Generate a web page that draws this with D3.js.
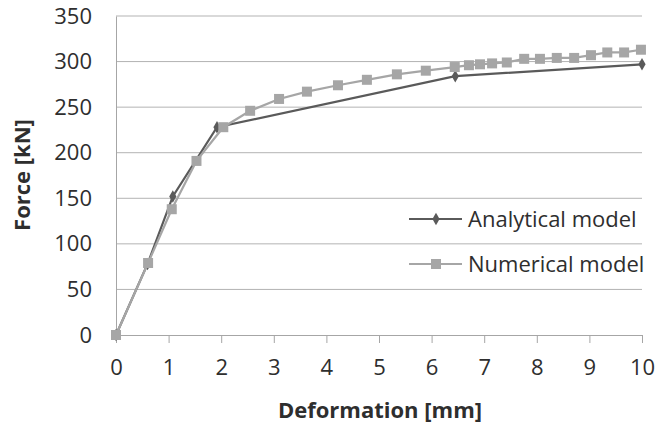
<!DOCTYPE html>
<html>
<head>
<meta charset="utf-8">
<script src="https://cdn.jsdelivr.net/npm/d3@7"></script>
<style>
  body { margin: 0; background: #fff; }
  svg { display: block; font-family: "Open Sans", sans-serif; }
</style>
</head>
<body>
<svg id="svg1" width="660" height="434"></svg>
<script>
// data
var analyticalX = [0, 0.6, 1.08, 1.92, 6.45, 10];
var analyticalY = [0, 78, 152, 228, 284, 297];

var numericalX = [0, 0.61, 1.06, 1.53, 2.04, 2.55, 3.1, 3.63, 4.22, 4.77, 5.34, 5.89,
                  6.44, 6.71, 6.92, 7.15, 7.43, 7.76, 8.06, 8.38, 8.71, 9.03, 9.34, 9.66, 9.98];
var numericalY = [0, 79, 138, 191, 228, 246, 259, 267, 274, 280, 286, 290,
                  294, 296, 297, 298, 299, 303, 303, 304, 304, 307, 310, 310, 313];

var xTicks = [0, 1, 2, 3, 4, 5, 6, 7, 8, 9, 10];
var yTicks = [0, 50, 100, 150, 200, 250, 300, 350];

var seriesNames = ["Analytical model", "Numerical model"];

var svg = d3.select('svg');

var plotLeft = 116, plotRight = 642, plotTop = 16, plotBottom = 335;

var x = d3.scaleLinear().domain([0, 10]).range([plotLeft, plotRight]);
var y = d3.scaleLinear().domain([0, 350]).range([plotBottom, plotTop]);

// horizontal gridlines
svg.append('g')
   .selectAll('line')
   .data(yTicks.filter(function(d) { return d > 0; }))
   .enter()
   .append('line')
   .attr('x1', plotLeft).attr('x2', plotRight)
   .attr('y1', function(d) { return y(d); })
   .attr('y2', function(d) { return y(d); })
   .attr('stroke', '#b3b3b3')
   .attr('stroke-width', 1);

// x axis
var xAxis = svg.append('g')
   .attr('transform', 'translate(0,' + plotBottom + ')')
   .call(d3.axisBottom(x).tickValues(xTicks).tickSize(8).tickPadding(16));
xAxis.attr('font-family', null).attr('font-size', null);
xAxis.select('.domain').attr('stroke', '#a6a6a6');
xAxis.selectAll('.tick line').attr('stroke', '#a6a6a6');
xAxis.selectAll('text').attr('font-size', 22).attr('fill', '#2e2e2e');

// y axis
var yAxis = svg.append('g')
   .attr('transform', 'translate(' + plotLeft + ',0)')
   .call(d3.axisLeft(y).tickValues(yTicks).tickSize(0).tickPadding(24));
yAxis.attr('font-family', null).attr('font-size', null);
yAxis.select('.domain').attr('stroke', '#a6a6a6');
yAxis.selectAll('text').attr('font-size', 22).attr('fill', '#2e2e2e');

// axis titles
svg.append('text')
   .attr('x', 380).attr('y', 418)
   .attr('text-anchor', 'middle')
   .attr('font-size', 22).attr('font-weight', 'bold').attr('fill', '#2e2e2e')
   .text('Deformation [mm]');

svg.append('text')
   .attr('transform', 'translate(30,175) rotate(-90)')
   .attr('text-anchor', 'middle')
   .attr('font-size', 22).attr('font-weight', 'bold').attr('fill', '#2e2e2e')
   .text('Force [kN]');

var line = d3.line()
   .x(function(d) { return x(d[0]); })
   .y(function(d) { return y(d[1]); });

var analytical = analyticalX.map(function(d, i) { return [d, analyticalY[i]]; });
var numerical = numericalX.map(function(d, i) { return [d, numericalY[i]]; });

var diamond = d3.symbol().type(d3.symbolDiamond).size(45);

// analytical series
svg.append('path')
   .datum(analytical)
   .attr('d', line)
   .attr('fill', 'none')
   .attr('stroke', '#5a5a5a')
   .attr('stroke-width', 2.2);

svg.append('g')
   .selectAll('path')
   .data(analytical)
   .enter()
   .append('path')
   .attr('d', diamond)
   .attr('transform', function(d) { return 'translate(' + x(d[0]) + ',' + y(d[1]) + ')'; })
   .attr('fill', '#5a5a5a');

// numerical series
svg.append('path')
   .datum(numerical)
   .attr('d', line)
   .attr('fill', 'none')
   .attr('stroke', '#a6a6a6')
   .attr('stroke-width', 2.2);

svg.append('g')
   .selectAll('rect')
   .data(numerical)
   .enter()
   .append('rect')
   .attr('x', function(d) { return x(d[0]) - 5; })
   .attr('y', function(d) { return y(d[1]) - 5; })
   .attr('width', 10).attr('height', 10)
   .attr('fill', '#a6a6a6');

// legend
var legend = svg.append('g');
var legendY = [219, 264];
var legendColor = ['#5a5a5a', '#a6a6a6'];

seriesNames.forEach(function(name, i) {
  var g = legend.append('g').attr('transform', 'translate(0,' + legendY[i] + ')');
  g.append('line')
   .attr('x1', 409).attr('x2', 462)
   .attr('stroke', legendColor[i]).attr('stroke-width', 2.2);
  if (i == 0) {
    g.append('path').attr('d', diamond).attr('transform', 'translate(436,0)').attr('fill', legendColor[i]);
  } else {
    g.append('rect').attr('x', 431).attr('y', -5).attr('width', 10).attr('height', 10).attr('fill', legendColor[i]);
  }
  g.append('text')
   .attr('x', 468).attr('y', 0).attr('dy', '0.35em')
   .attr('font-size', 22).attr('fill', '#2e2e2e')
   .text(name);
});
</script>
</body>
</html>
